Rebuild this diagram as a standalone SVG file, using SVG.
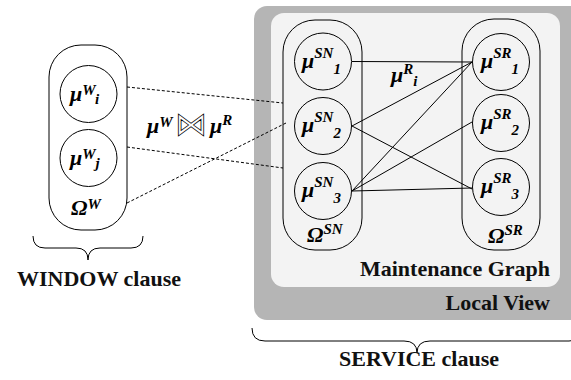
<svg xmlns="http://www.w3.org/2000/svg" width="571" height="380" viewBox="0 0 571 380" font-family="Liberation Serif, serif">
<style>
.ln{stroke:#000;stroke-width:1;fill:none}
.ds{stroke:#000;stroke-width:1;fill:none;stroke-dasharray:3,2}
.ct{stroke:#000;stroke-width:1;fill:none}
.m{font-weight:bold;font-style:italic;font-size:22px;fill:#000}
.s{font-size:15px}
.lb{font-weight:bold;font-size:22px;fill:#111}
.sym{font-size:32px;font-style:normal;font-weight:normal;fill:none;stroke:#000;stroke-width:0.8}
</style>
<g id="local-view">
<rect x="254" y="6" width="330" height="314" rx="13" fill="#b5b5b5"/>
<text class="lb" x="550" y="310" text-anchor="end">Local View</text>
</g>
<g id="maintenance-graph">
<rect x="271" y="13" width="289" height="274" rx="13" fill="#f3f3f3"/>
<text class="lb" x="550" y="276" text-anchor="end">Maintenance Graph</text>
</g>
<g id="connectors">
<line class="ds" x1="127" y1="87" x2="283" y2="103"/>
<line class="ds" x1="127" y1="147" x2="283" y2="168"/>
<line class="ds" x1="127" y1="203" x2="286" y2="123"/>
<line class="ln" x1="352" y1="61.5" x2="472" y2="62"/>
<line class="ln" x1="352" y1="126" x2="472" y2="62"/>
<line class="ln" x1="352" y1="126" x2="472" y2="189"/>
<line class="ln" x1="352" y1="191" x2="472" y2="62"/>
<line class="ln" x1="352" y1="191" x2="472" y2="122"/>
<line class="ln" x1="352" y1="191" x2="472" y2="188"/>
</g>
<g id="join-label">
<text class="m" x="147" y="133">μ<tspan class="s" dy="-6">W</tspan><tspan class="sym" x="175" dy="8" font-family="DejaVu Sans, sans-serif">⋈</tspan><tspan x="210" dy="-2">μ</tspan><tspan class="s" dy="-8">R</tspan></text>
</g>
<g id="edge-label">
<text class="m" x="391" y="82">μ<tspan class="s" dy="-8">R</tspan><tspan class="s" dy="12">i</tspan></text>
</g>
<g id="window">
<rect class="ct" x="49" y="45" width="78" height="185" rx="32"/>
<text class="m" x="71" y="215">Ω<tspan class="s" dy="-6">W</tspan></text>
</g>
<g id="mu-w-i">
<circle class="ct" cx="88.5" cy="94" r="28.5"/>
<text class="m" x="70" y="101">μ<tspan class="s" dy="-6">W</tspan><tspan class="s" dy="9">i</tspan></text>
</g>
<g id="mu-w-j">
<circle class="ct" cx="88.5" cy="158" r="28.5"/>
<text class="m" x="70" y="165">μ<tspan class="s" dy="-6">W</tspan><tspan class="s" dy="9">j</tspan></text>
</g>
<g id="omega-sn">
<rect class="ct" x="283" y="20" width="79" height="230" rx="32"/>
<text class="m" x="307" y="242">Ω<tspan class="s" dy="-8">SN</tspan></text>
</g>
<g id="mu-sn-1">
<circle class="ct" cx="323" cy="61.5" r="28.5"/>
<text class="m" x="302" y="67.5">μ<tspan class="s" dy="-10">SN</tspan><tspan class="s" dy="16">1</tspan></text>
</g>
<g id="mu-sn-2">
<circle class="ct" cx="323" cy="126" r="28.5"/>
<text class="m" x="302" y="132">μ<tspan class="s" dy="-10">SN</tspan><tspan class="s" dy="16">2</tspan></text>
</g>
<g id="mu-sn-3">
<circle class="ct" cx="323" cy="191" r="28.5"/>
<text class="m" x="302" y="197">μ<tspan class="s" dy="-10">SN</tspan><tspan class="s" dy="16">3</tspan></text>
</g>
<g id="omega-sr">
<rect class="ct" x="462" y="19" width="78" height="231" rx="32"/>
<text class="m" x="488" y="243">Ω<tspan class="s" dy="-8">SR</tspan></text>
</g>
<g id="mu-sr-1">
<circle class="ct" cx="501" cy="62" r="28.5"/>
<text class="m" x="481" y="68">μ<tspan class="s" dy="-10">SR</tspan><tspan class="s" dy="16">1</tspan></text>
</g>
<g id="mu-sr-2">
<circle class="ct" cx="501" cy="123" r="28.5"/>
<text class="m" x="481" y="129">μ<tspan class="s" dy="-10">SR</tspan><tspan class="s" dy="16">2</tspan></text>
</g>
<g id="mu-sr-3">
<circle class="ct" cx="501" cy="187" r="28.5"/>
<text class="m" x="481" y="193">μ<tspan class="s" dy="-10">SR</tspan><tspan class="s" dy="16">3</tspan></text>
</g>
<g id="window-clause">
<path class="ln" d="M33,236 Q33,248 45,248 L76,248 Q88,248 88,260 Q88,248 100,248 L131,248 Q143,248 143,236"/>
<text class="lb" x="99" y="286" text-anchor="middle">WINDOW clause</text>
</g>
<g id="service-clause">
<path class="ln" d="M252,328 Q252,341 265,341 L404,341 Q417,341 417,353 Q417,341 430,341 L569,341 Q582,341 582,328"/>
<text class="lb" x="419" y="366" text-anchor="middle">SERVICE clause</text>
</g>
</svg>
